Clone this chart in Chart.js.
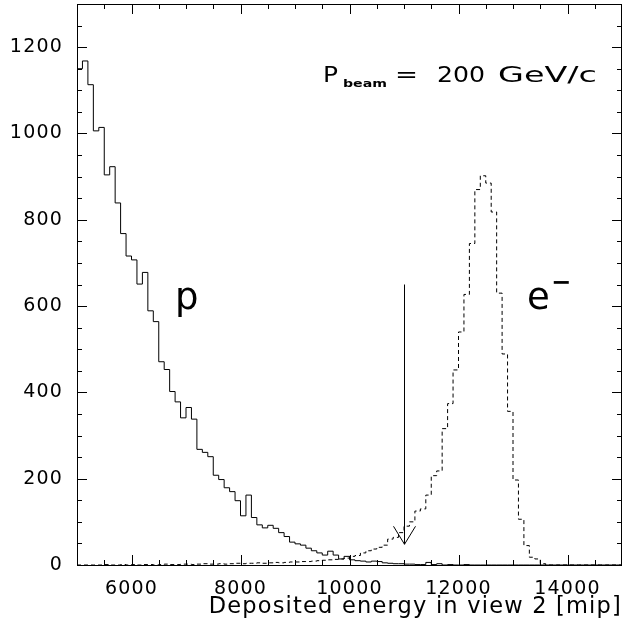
<!DOCTYPE html>
<html>
<head>
<meta charset="utf-8">
<script src="https://cdn.jsdelivr.net/npm/chart.js@4.4.1/dist/chart.umd.min.js"></script>
<style>
  html, body { margin: 0; padding: 0; background: #fff; }
  #wrap { width: 623px; height: 622px; }
</style>
</head>
<body>
<div id="wrap"><canvas id="histo"></canvas></div>
<script>
const xMin = 5000, xMax = 15000, binWidth = 100;
const yMin = 0, yMax = 1300;
const xTicks = [6000, 8000, 10000, 12000, 14000];
const yTicks = [0, 200, 400, 600, 800, 1000, 1200];
const xMinorStep = 500, yMinorStep = 50;

// protons (solid line), one value per 100 mip bin starting at 5000
const protons = [
  1150, 1168, 1113, 1006, 1014, 904, 923, 839, 768, 716,
  707, 651, 678, 589, 564, 471, 453, 402, 378, 341,
  365, 338, 268, 261, 251, 208, 198, 179, 170, 149,
  114, 162, 110, 93, 86, 92, 85, 75, 66, 53,
  49, 46, 39, 33, 28, 23, 32, 23, 14, 20,
  12, 10, 9, 7, 9, 8, 5, 4, 3, 3,
  2, 2, 1, 1, 6, 1, 3, 0, 1, 0,
  0, 1, 0, 0, 0, 0, 0, 0, 0, 0,
  0, 0, 0, 0, 0, 0, 0, 0, 0, 0,
  0, 0, 0, 0, 0, 0, 0, 0, 0, 0
];

// electrons (dashed line), same bins
const electrons = [
  0, 0, 0, 0, 0, 1, 0, 0, 1, 0,
  1, 0, 1, 1, 0, 1, 2, 1, 1, 2,
  2, 1, 2, 3, 2, 2, 3, 2, 3, 4,
  3, 4, 4, 5, 4, 5, 6, 5, 6, 7,
  7, 8, 8, 9, 10, 11, 12, 13, 14, 16,
  20, 22, 28, 33, 37, 41, 46, 60, 64, 75,
  90, 100, 125, 130, 162, 207, 218, 316, 374, 452,
  540, 627, 745, 870, 902, 885, 818, 630, 489, 356,
  197, 106, 45, 18, 14, 3, 0, 0, 0, 0,
  0, 0, 0, 0, 0, 0, 0, 0, 0, 0
];

// cut arrow at 11000 mip
const cutValue = 11000, arrowFrom = 650, arrowTo = 48;

const font = 'DejaVu Sans';

function toSteps(values) {
  const pts = values.map((v, i) => ({ x: xMin + i * binWidth, y: v }));
  pts.push({ x: xMax, y: values[values.length - 1] });
  return pts;
}

// the original font is wider than anything installed, so stretch it
function wide(ctx, text, x, y, width) {
  ctx.letterSpacing = '0px';
  const natural = ctx.measureText(text).width;
  ctx.save();
  ctx.translate(x, y);
  ctx.scale(width / natural, 1);
  ctx.fillText(text, 0, 0);
  ctx.restore();
}

const decor = {
  id: 'decor',
  beforeDraw(chart) {
    const ctx = chart.ctx;
    ctx.save();
    ctx.fillStyle = '#fff';
    ctx.fillRect(0, 0, chart.width, chart.height);
    ctx.restore();
    ctx.letterSpacing = '1.2px';
  },
  afterDatasetsDraw(chart) {
    const { ctx, chartArea: a, scales: { x, y } } = chart;
    ctx.save();
    ctx.strokeStyle = '#000';
    ctx.lineWidth = 1;
    ctx.setLineDash([]);
    ctx.strokeRect(a.left + 0.5, a.top + 0.5, a.right - a.left - 1, a.bottom - a.top);

    ctx.beginPath();
    for (let v = xMin + xMinorStep; v < xMax; v += xMinorStep) {
      const px = Math.round(x.getPixelForValue(v)) + 0.5;
      const len = xTicks.includes(v) ? 10 : 5;
      ctx.moveTo(px, a.bottom); ctx.lineTo(px, a.bottom - len);
      ctx.moveTo(px, a.top); ctx.lineTo(px, a.top + len);
    }
    for (let v = yMin + yMinorStep; v < yMax; v += yMinorStep) {
      const py = Math.round(y.getPixelForValue(v)) + 0.5;
      const len = yTicks.includes(v) ? 10 : 5;
      ctx.moveTo(a.left, py); ctx.lineTo(a.left + len, py);
      ctx.moveTo(a.right, py); ctx.lineTo(a.right - len, py);
    }
    ctx.stroke();

    // arrow
    const ax = Math.round(x.getPixelForValue(cutValue)) + 0.5;
    const top = y.getPixelForValue(arrowFrom);
    const tip = y.getPixelForValue(arrowTo);
    ctx.beginPath();
    ctx.moveTo(ax, top); ctx.lineTo(ax, tip);
    ctx.moveTo(ax - 11, tip - 18); ctx.lineTo(ax, tip); ctx.lineTo(ax + 11, tip - 18);
    ctx.stroke();

    // labels
    ctx.fillStyle = '#000';
    ctx.textBaseline = 'alphabetic';
    ctx.textAlign = 'left';
    ctx.font = '21px "' + font + '"';
    wide(ctx, 'P', 323, 82, 15);
    ctx.font = 'bold 10px "' + font + '"';
    wide(ctx, 'beam', 343, 87, 44);
    ctx.font = '21px "' + font + '"';
    wide(ctx, '=', 395, 82, 23);
    wide(ctx, '200', 437, 82, 48);
    wide(ctx, 'GeV/c', 498, 82, 99);

    ctx.font = '37px "' + font + '"';
    ctx.fillText('p', 175, 309);
    ctx.fillText('e', 527, 309);
    ctx.font = 'bold 24px "' + font + '"';
    ctx.fillText('\u2212', 551, 290);
    ctx.restore();
    ctx.letterSpacing = '1.2px';
  }
};

new Chart(document.getElementById('histo'), {
  type: 'line',
  data: {
    datasets: [
      {
        label: 'p',
        data: toSteps(protons),
        borderColor: '#000',
        borderWidth: 1,
        stepped: 'before',
        pointRadius: 0,
        fill: false
      },
      {
        label: 'e-',
        data: toSteps(electrons),
        borderColor: '#000',
        borderWidth: 1,
        borderDash: [4, 3],
        stepped: 'before',
        pointRadius: 0,
        fill: false
      }
    ]
  },
  options: {
    responsive: true,
    maintainAspectRatio: false,
    animation: false,
    layout: { padding: { top: 4, right: 1, left: 0, bottom: 0 } },
    plugins: { legend: { display: false }, tooltip: { enabled: false } },
    scales: {
      x: {
        type: 'linear',
        min: xMin,
        max: xMax,
        grid: { display: false, drawTicks: false },
        border: { display: false },
        afterBuildTicks: s => { s.ticks = xTicks.map(v => ({ value: v })); },
        afterFit: s => { s.height = 57; s.paddingLeft = 0; s.paddingRight = 0; },
        ticks: {
          color: '#000',
          padding: 13,
          maxRotation: 0,
          font: { family: font, size: 19 },
          callback: v => String(v)
        },
        title: {
          display: true,
          text: 'Deposited energy in view 2 [mip]',
          align: 'end',
          color: '#000',
          font: { family: font, size: 22.5 },
          padding: { top: 0, bottom: 1 }
        }
      },
      y: {
        type: 'linear',
        min: yMin,
        max: yMax,
        grid: { display: false, drawTicks: false },
        border: { display: false },
        afterBuildTicks: s => { s.ticks = yTicks.map(v => ({ value: v })); },
        afterFit: s => { s.width = 77; s.paddingTop = 0; s.paddingBottom = 0; },
        ticks: {
          color: '#000',
          padding: 14,
          font: { family: font, size: 19 },
          callback: v => String(v)
        }
      }
    }
  },
  plugins: [decor]
});
</script>
</body>
</html>
